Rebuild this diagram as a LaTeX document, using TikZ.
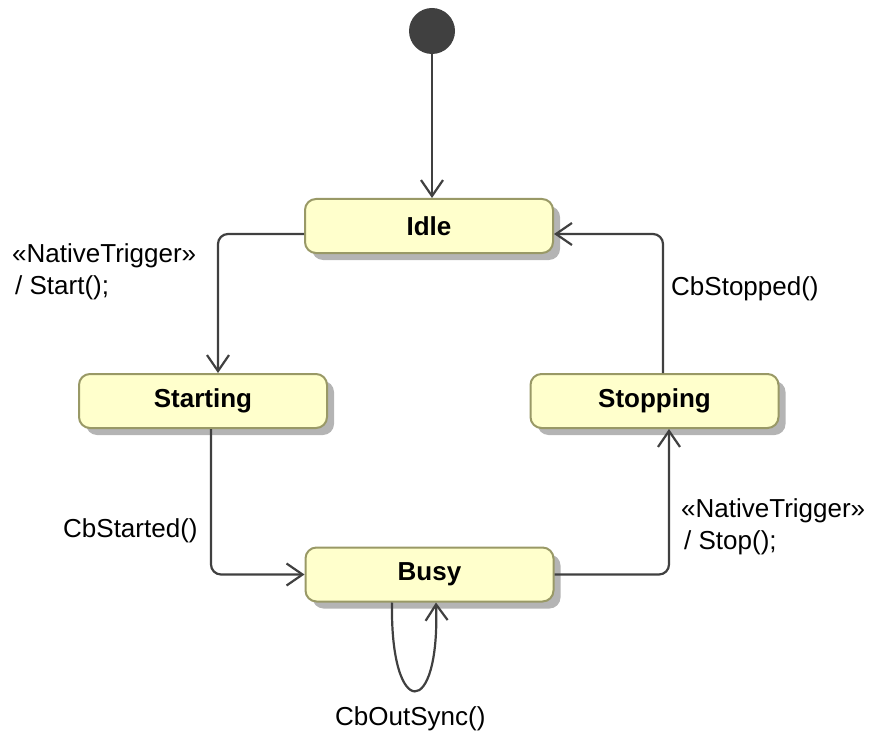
\documentclass[tikz,border=0pt]{standalone}
\usepackage{fontspec}
\setmainfont{Liberation Sans}
\usetikzlibrary{arrows.meta,shadows}
\definecolor{boxfill}{RGB}{255,255,204}
\definecolor{boxline}{RGB}{153,153,102}
\definecolor{shadowgray}{RGB}{180,180,180}
\definecolor{linegray}{RGB}{64,64,64}
\tikzset{
  statebox/.style={rectangle, rounded corners=11pt, draw=boxline, line width=2pt,
    fill=boxfill, minimum width=248pt, minimum height=54pt, inner sep=0pt,
    font=\fontsize{26}{30}\selectfont\bfseries,
    drop shadow={shadow xshift=7pt, shadow yshift=-7pt, fill=shadowgray, opacity=1}},
  initstate/.style={circle, fill=linegray, minimum size=46pt, inner sep=0pt},
  trans/.style={draw=linegray, line width=2.2pt, rounded corners=10pt,
    -{Straight Barb[length=16pt,width=22pt,line width=2.2pt]}},
  lbl/.style={inner sep=0pt, font=\fontsize{26}{32}\selectfont, align=left}
}
\begin{document}
\begin{tikzpicture}[x=1pt,y=-1pt]
\useasboundingbox (0,0) rectangle (875,738);
\node[initstate] (init) at (432,31) {};
\node[statebox] (idle) at (429,226) {Idle};
\node[statebox] (starting) at (203,401) {Starting};
\node[statebox] (stopping) at (654.5,401) {Stopping};
\node[statebox] (busy) at (429.5,574.5) {Busy};

\draw[trans] (init.south) -- (init.south |- idle.north);
\draw[trans] ([yshift=-8pt]idle.west) -| ([xshift=15pt]starting.north);
\draw[trans] ([xshift=8pt]starting.south) |- (busy.west);
\draw[trans] (busy.east) -| ([xshift=14.5pt]stopping.south);
\draw[trans] ([xshift=8.5pt]stopping.north) |- ([yshift=-8pt]idle.east);
\draw[trans, rounded corners=0pt] ([xshift=-37.5pt]busy.south) .. controls +(-2,118) and +(4,118) .. ([xshift=6.5pt]busy.south);

\node[lbl, anchor=north west] (l1) at (12,243) {«NativeTrigger»\\\hspace*{3pt}/ Start();};
\node[lbl, anchor=base west] (l2) at (671,295) {CbStopped()};
\node[lbl, anchor=base west] (l3) at (63,537) {CbStarted()};
\node[lbl, anchor=north west] (l4) at (681,498) {«NativeTrigger»\\\hspace*{3pt}/ Stop();};
\node[lbl, anchor=base west] (l5) at (335,725) {CbOutSync()};
\end{tikzpicture}
\end{document}
